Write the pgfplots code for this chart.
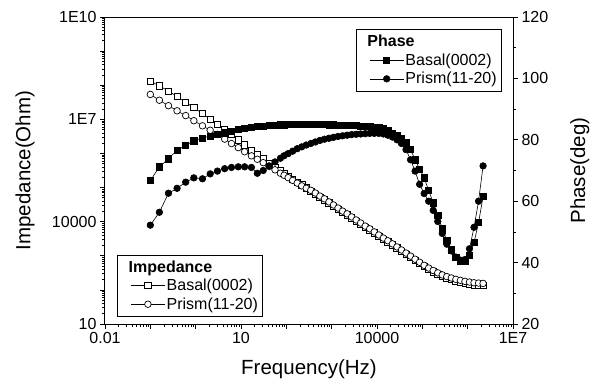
\documentclass[border=0pt]{standalone}
\usepackage{fontspec}
\setmainfont{Liberation Sans}
\usepackage{pgfplots}
\usepackage{pgfplotstable}
\pgfplotsset{compat=1.18}

\pgfplotstableread{
f        zb        zp        pb    pp
0.1      1.318e8   5.370e7   66.7  52.2
0.1585   9.550e7   3.631e7   71.2  56.4
0.2512   6.761e7   2.512e7   73.8  62.6
0.3890   4.677e7   1.778e7   76.6  64.2
0.6026   3.162e7   1.288e7   78.2  66.2
0.9120   2.188e7   9.120e6   79.7  67.6
1.413    1.479e7   6.457e6   80.6  67.3
2.089    1.023e7   4.786e6   81.2  68.9
3.020    7.244e6   3.631e6   81.8  69.8
4.365    5.129e6   2.630e6   82.3  70.6
6.166    3.631e6   1.950e6   82.8  71.0
8.710    2.512e6   1.479e6   83.3  71.2
12.02    1.778e6   1.122e6   83.7  71.2
16.98    1.259e6   8.511e5   84.0  71.0
22.91    9.120e5   6.761e5   84.3  69.1
30.90    6.918e5   5.370e5   84.5  70.0
41.69    5.248e5   4.169e5   84.7  71.5
56.23    3.981e5   3.311e5   84.8  72.8
74.13    3.090e5   2.630e5   84.9  74.0
89.13    2.630e5   2.291e5   84.9  74.8
109.6    2.188e5   1.950e5   85.0  75.5
138.0    1.778e5   1.622e5   85.0  76.3
173.8    1.445e5   1.349e5   85.1  77.1
218.8    1.202e5   1.122e5   85.1  77.7
275.4    9.772e4   9.550e4   85.1  78.3
346.7    7.943e4   8.318e4   85.1  78.8
436.5    6.457e4   6.918e4   85.0  79.3
549.5    5.248e4   5.623e4   85.0  79.8
691.8    4.365e4   4.677e4   85.0  80.2
871.0    3.548e4   3.802e4   84.9  80.5
1096     2.884e4   3.090e4   84.9  80.8
1380     2.344e4   2.512e4   84.8  81.1
1738     1.905e4   2.042e4   84.8  81.3
2188     1.585e4   1.698e4   84.7  81.5
2754     1.288e4   1.380e4   84.7  81.7
3467     1.047e4   1.122e4   84.6  81.8
4365     8.511e3   9.120e3   84.5  81.9
5495     6.918e3   7.413e3   84.4  82.0
6918     5.754e3   6.166e3   84.3  82.1
8710     4.677e3   5.012e3   84.2  82.1
10960    3.802e3   4.074e3   84.0  82.1
13800    3.090e3   3.311e3   83.6  81.9
17380    2.570e3   2.754e3   83.0  81.5
21880    2.089e3   2.239e3   82.2  80.9
27540    1.698e3   1.820e3   81.4  80.0
34670    1.380e3   1.479e3   80.4  78.8
43650    1.122e3   1.202e3   79.0  76.8
54950    912.0     977.2     76.8  73.5
69180    741.3     794.3     73.5  69.8
87100    602.6     645.7     70.5  65.5
109600   489.8     524.8     67.6  62.5
138000   407.4     436.5     63.5  60.0
173800   338.8     371.5     59.5  57.0
218800   288.4     316.2     55.5  53.4
275400   251.2     275.4     51.0  49.5
346700   223.9     245.5     47.2  46.0
436500   199.5     223.9     44.2  43.8
549500   182.0     204.2     41.8  41.8
691800   166.0     190.5     40.3  40.8
871000   154.9     177.8     40.5  41.0
1096000  147.9     169.8     42.3  44.5
1380000  141.3     162.2     46.5  51.5
1738000  138.0     158.5     53.0  60.0
2188000  134.9     154.9     61.5  71.5
}\data

\pgfplotsset{
  every axis/.append style={
    scale only axis, width=408pt, height=307pt,
    xmode=log, xmin=0.01, xmax=1e7,
    tick align=outside,
    major tick length=5pt, minor tick length=3pt,
    tick style={black, line width=0.7pt},
    axis line style={line width=1pt},
    /pgf/number format/assume math mode=true,
    tick label style={font=\fontsize{16}{19}\selectfont},
    label style={font=\fontsize{20.5}{24}\selectfont},
    legend style={draw=black, line width=0.7pt, font=\fontsize{16}{19}\selectfont,
      row sep=2.5pt, inner xsep=3pt, inner ysep=4pt, nodes={inner sep=1.5pt}, cells={anchor=west}},
    legend cell align=left,
    legend image code/.code={\path (-10pt,0pt) (0pt,0pt);
      \draw[mark repeat=2,mark phase=2,#1] plot coordinates {(0pt,0pt) (17pt,0pt) (34pt,0pt)};},
  },
}

\begin{document}
\begin{tikzpicture}
\useasboundingbox (-105pt,-64pt) rectangle (488pt,324pt);
\begin{axis}[
  ymode=log, ymin=10, ymax=1e10,
  xtick={1e-2,1e-1,1,1e1,1e2,1e3,1e4,1e5,1e6,1e7},
  xticklabels={0.01,,,10,,,10000,,,1E7},
  minor xtick={0.02,0.03,0.04,0.05,0.06,0.07,0.08,0.09,
    0.2,0.3,0.4,0.5,0.6,0.7,0.8,0.9,
    2,3,4,5,6,7,8,9,
    20,30,40,50,60,70,80,90,
    200,300,400,500,600,700,800,900,
    2000,3000,4000,5000,6000,7000,8000,9000,
    2e4,3e4,4e4,5e4,6e4,7e4,8e4,9e4,
    2e5,3e5,4e5,5e5,6e5,7e5,8e5,9e5,
    2e6,3e6,4e6,5e6,6e6,7e6,8e6,9e6},
  ytick={1e1,1e2,1e3,1e4,1e5,1e6,1e7,1e8,1e9,1e10},
  yticklabels={10,,,10000,,,1E7,,,1E10},
  minor ytick={20,30,40,50,60,70,80,90,
    200,300,400,500,600,700,800,900,
    2000,3000,4000,5000,6000,7000,8000,9000,
    2e4,3e4,4e4,5e4,6e4,7e4,8e4,9e4,
    2e5,3e5,4e5,5e5,6e5,7e5,8e5,9e5,
    2e6,3e6,4e6,5e6,6e6,7e6,8e6,9e6,
    2e7,3e7,4e7,5e7,6e7,7e7,8e7,9e7,
    2e8,3e8,4e8,5e8,6e8,7e8,8e8,9e8,
    2e9,3e9,4e9,5e9,6e9,7e9,8e9,9e9},
  xtick pos=bottom, ytick pos=left,
  xlabel={Frequency(Hz)}, ylabel={Impedance(Ohm)},
  xlabel style={at={(axis description cs:0.5,-0.147)}, anchor=center},
  ylabel style={at={(axis description cs:-0.196,0.5)}, anchor=center},
  legend style={at={(rel axis cs:0.030,0.024)}, anchor=south west},
]
\addlegendimage{empty legend}
\addlegendentry{\hspace*{-38pt}\textbf{Impedance}}
\addplot[black, line width=0.6pt, mark=square*, mark size=3.1pt,
  mark options={solid, fill=white, line width=0.7pt}] table[x=f, y=zb] {\data};
\addlegendentry{Basal(0002)}
\addplot[black, line width=0.6pt, mark=*, mark size=3.3pt,
  mark options={solid, fill=white, line width=0.7pt}] table[x=f, y=zp] {\data};
\addlegendentry{Prism(11-20)}
\end{axis}

\begin{axis}[
  axis x line=none, axis y line*=right,
  ymin=20, ymax=120,
  ytick={20,40,60,80,100,120},
  minor ytick={30,50,70,90,110},
  ylabel={Phase(deg)},
  ylabel style={at={(axis description cs:1.164,0.5)}, anchor=center},
  legend style={at={(rel axis cs:0.972,0.960)}, anchor=north east},
]
\addlegendimage{empty legend}
\addlegendentry{\hspace*{-38pt}\textbf{Phase}}
\addplot[black, line width=0.6pt, mark=square*, mark size=3.1pt,
  mark options={solid, fill=black}] table[x=f, y=pb] {\data};
\addlegendentry{Basal(0002)}
\addplot[black, line width=0.6pt, mark=*, mark size=3.3pt,
  mark options={solid, fill=black}] table[x=f, y=pp] {\data};
\addlegendentry{Prism(11-20)}
\end{axis}
\end{tikzpicture}
\end{document}
